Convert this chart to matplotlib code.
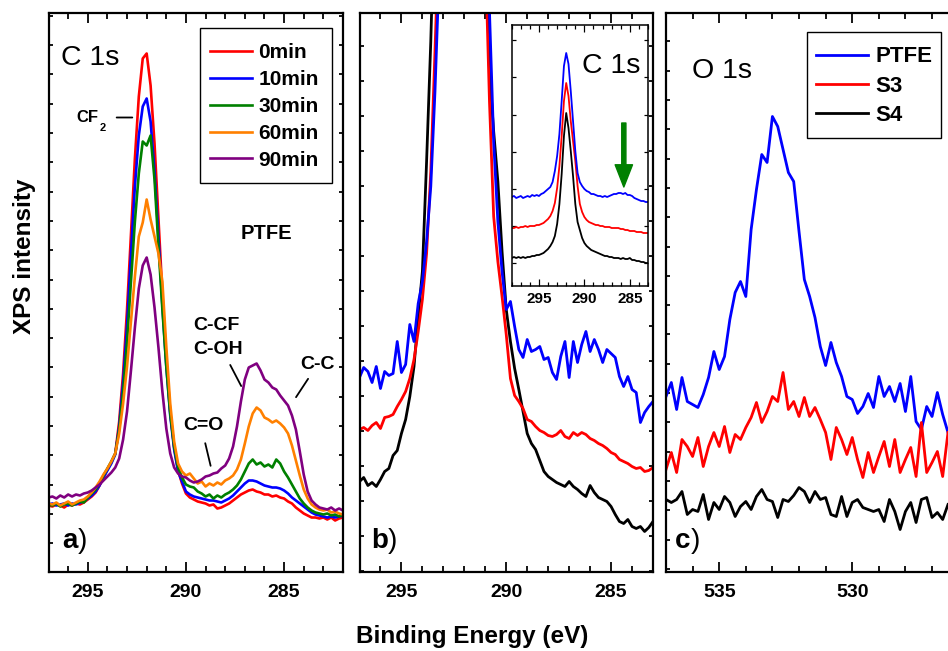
import numpy as np
import matplotlib.pyplot as plt
from matplotlib.ticker import MultipleLocator
from matplotlib.patches import Rectangle

plt.rcParams['font.family'] = ['Liberation Sans', 'DejaVu Sans']
plt.rcParams['font.weight'] = 'bold'

# ---------------- data (intensities in arbitrary units) ----------------
# panel a: C 1s of PTFE after 0..90 min treatment
energy_a = np.round(np.arange(297.0, 281.9, -0.2), 1)
labels_a = ['0min', '10min', '30min', '60min', '90min']
colors_a = ['#ff0000', '#0000ff', '#008000', '#ff8000', '#800080']
a_0min = [66, 65, 67, 66, 64, 67, 66, 68, 67, 69,
          72, 75, 79, 86, 94, 102, 109, 118, 150, 198,
          262, 337, 413, 475, 513, 518, 486, 428, 353, 278,
          212, 160, 124, 101, 88, 78, 74, 72, 70, 69,
          68, 66, 67, 63, 64, 66, 68, 71, 74, 77,
          79, 81, 82, 80, 79, 77, 77, 75, 76, 74,
          73, 70, 68, 64, 61, 58, 56, 54, 54, 53,
          54, 52, 54, 51, 53, 54]
a_10min = [67, 68, 66, 67, 68, 66, 68, 67, 69, 70,
           73, 76, 80, 86, 94, 101, 108, 117, 145, 189,
           246, 318, 385, 436, 465, 473, 450, 400, 335, 266,
           205, 156, 122, 100, 90, 80, 77, 75, 74, 73,
           72, 71, 71, 70, 69, 71, 73, 76, 80, 84,
           88, 91, 91, 90, 88, 86, 85, 84, 84, 83,
           81, 78, 74, 71, 68, 65, 62, 59, 57, 56,
           55, 54, 55, 54, 55, 56]
a_30min = [67, 66, 68, 65, 67, 68, 66, 68, 70, 69,
           74, 78, 82, 88, 96, 103, 110, 118, 142, 180,
           230, 290, 350, 398, 430, 426, 436, 392, 325, 262,
           205, 158, 125, 104, 94, 87, 85, 84, 80, 78,
           75, 77, 73, 76, 74, 77, 79, 82, 86, 92,
           100, 108, 112, 107, 109, 105, 107, 104, 112, 108,
           100, 94, 87, 80, 73, 68, 64, 61, 59, 58,
           57, 58, 56, 57, 55, 57]
a_60min = [68, 67, 69, 66, 68, 70, 67, 69, 71, 72,
           75, 79, 84, 90, 97, 103, 110, 118, 138, 168,
           205, 250, 295, 335, 349, 372, 352, 335, 318, 290,
           225, 168, 130, 108, 100, 96, 98, 93, 88, 90,
           85, 88, 86, 89, 87, 91, 93, 96, 102, 112,
           128, 145, 158, 164, 161, 154, 152, 149, 151, 148,
           144, 138, 126, 111, 96, 82, 73, 67, 64, 62,
           61, 62, 59, 60, 58, 57]
a_90min = [74, 75, 73, 76, 74, 77, 75, 77, 76, 78,
           79, 81, 84, 87, 91, 95, 99, 104, 113, 132,
           160, 201, 244, 283, 306, 314, 297, 264, 224, 180,
           143, 118, 104, 98, 95, 94, 91, 89, 90, 92,
           95, 96, 98, 99, 103, 106, 113, 125, 145, 170,
           192, 204, 206, 208, 201, 192, 189, 184, 182, 176,
           171, 166, 156, 142, 120, 97, 80, 71, 67, 64,
           63, 62, 64, 61, 63, 61]

# panel b: C 1s zoomed on the base of the CF2 peak
energy_b = np.round(np.arange(297.0, 282.9, -0.2), 1)
b_ptfe = [194, 204, 200, 189, 205, 183, 200, 196, 198, 230,
          199, 207, 247, 230, 268, 290, 330, 385, 480, 600,
          750, 950, 1150, 1350, 1500, 1550, 1450, 1250, 1050, 850,
          680, 560, 430, 350, 300, 262, 270, 245, 222, 214,
          232, 220, 222, 225, 212, 214, 199, 192, 215, 230,
          194, 230, 209, 227, 240, 220, 232, 222, 209, 222,
          218, 214, 195, 185, 195, 182, 179, 149, 159, 165,
          170]
b_s3 = [142, 144, 141, 146, 149, 143, 154, 155, 157, 165,
        172, 180, 193, 212, 240, 272, 318, 400, 520, 650,
        820, 1000, 1200, 1350, 1450, 1450, 1380, 1220, 1030, 840,
        620, 470, 355, 310, 275, 237, 193, 176, 170, 163,
        152, 150, 145, 141, 139, 136, 135, 137, 141, 135,
        133, 139, 136, 139, 137, 133, 131, 128, 126, 123,
        119, 117, 112, 110, 108, 105, 103, 104, 100, 101,
        104]
b_s4 = [90, 94, 86, 89, 85, 92, 100, 103, 116, 121,
        138, 152, 175, 205, 255, 300, 410, 530, 680, 850,
        1050, 1250, 1450, 1600, 1700, 1700, 1600, 1400, 1150, 900,
        680, 500, 440, 390, 320, 262, 230, 203, 182, 160,
        138, 128, 122, 111, 100, 95, 92, 89, 87, 85,
        90, 85, 82, 78, 75, 86, 79, 74, 72, 70,
        65, 57, 50, 48, 52, 45, 43, 45, 40, 44,
        50]

# inset: full C 1s
energy_in = np.round(np.arange(298.0, 282.9, -0.25), 2)
in_ptfe = [89, 90, 88, 89, 90, 88, 89, 90, 89, 91,
           90, 91, 90, 92, 93, 95, 97, 99, 104, 115,
           130, 152, 185, 220, 233, 222, 195, 165, 135, 113,
           104, 100, 97, 95, 94, 92, 92, 91, 90, 90,
           89, 90, 89, 90, 91, 92, 92, 93, 93, 92,
           93, 91, 91, 90, 88, 87, 86, 85, 85, 84,
           84]
in_s3 = [58, 58, 59, 58, 59, 59, 60, 59, 60, 60,
         60, 61, 61, 62, 63, 65, 67, 70, 75, 83,
         98, 120, 150, 185, 203, 190, 165, 145, 125, 100,
         82, 74, 69, 66, 64, 63, 62, 61, 61, 60,
         60, 59, 59, 59, 58, 58, 58, 58, 57, 57,
         56, 56, 55, 55, 55, 54, 54, 54, 53, 53,
         53]
in_s4 = [28, 29, 28, 29, 28, 29, 28, 29, 29, 30,
         30, 31, 31, 32, 33, 35, 37, 40, 44, 50,
         62, 82, 112, 150, 173, 158, 135, 110, 82, 64,
         56, 48, 43, 40, 38, 36, 35, 34, 33, 32,
         31, 30, 30, 29, 29, 28, 28, 28, 27, 28,
         27, 27, 28, 26, 26, 25, 25, 24, 24, 23,
         23]

# panel c: O 1s
energy_c = np.round(np.arange(537.0, 526.3, -0.2), 1)
c_ptfe = [175, 189, 162, 194, 170, 167, 164, 177, 194, 220,
          202, 215, 252, 279, 290, 275, 342, 382, 417, 409,
          455, 445, 422, 399, 390, 340, 292, 275, 254, 225,
          206, 229, 209, 195, 175, 172, 158, 165, 178, 164,
          195, 175, 185, 170, 188, 160, 195, 150, 142, 165,
          155, 179, 157, 139]
c_s3 = [102, 119, 99, 132, 125, 115, 134, 105, 125, 139,
        125, 145, 119, 137, 132, 144, 154, 169, 149, 160,
        175, 170, 199, 162, 170, 155, 174, 155, 164, 152,
        139, 112, 144, 132, 117, 134, 112, 94, 119, 99,
        115, 130, 105, 132, 99, 112, 124, 95, 149, 99,
        109, 120, 95, 139]
c_s4 = [72, 69, 72, 80, 57, 62, 60, 77, 52, 69,
        62, 75, 69, 55, 65, 70, 62, 75, 82, 72,
        70, 54, 72, 70, 76, 84, 80, 69, 80, 72,
        74, 57, 55, 75, 55, 69, 72, 64, 62, 60,
        62, 50, 72, 60, 42, 60, 69, 49, 72, 74,
        54, 59, 52, 67]

W, H = 948, 651


def style_axes(ax, ystep, yoff, lw=1.6, major_len=7, minor_len=4, labelsize=14, pad=9):
    ax.xaxis.set_major_locator(MultipleLocator(5))
    ax.xaxis.set_minor_locator(MultipleLocator(1))
    ax.yaxis.set_major_locator(MultipleLocator(ystep, offset=yoff))
    ax.tick_params(which='both', direction='in', top=True, right=True, width=lw * 0.8)
    ax.tick_params(axis='x', which='major', length=major_len, labelsize=labelsize, pad=pad)
    ax.tick_params(axis='x', which='minor', length=minor_len)
    ax.tick_params(axis='y', which='major', length=3, labelleft=False)
    for s in ax.spines.values():
        s.set_linewidth(lw)


def panel_label(ax, letter, x):
    t = ax.text(x, 0.042, letter, transform=ax.transAxes, fontsize=20, va='baseline')
    ax.annotate(')', xy=(1, 0), xycoords=t, va='bottom', fontsize=20, fontweight='normal')


def leader(ax, p0, p1):
    ax.annotate('', xy=p1, xytext=p0, arrowprops=dict(arrowstyle='-', lw=1.3, color='black'))


def boxed_legend(ax, fig, box, anchor_top, fontsize, **kw):
    # legend without its own frame, plus a frame sized like the original box
    x0, y0, x1, y1 = box
    ax.add_patch(Rectangle((x0 / W, 1 - y1 / H), (x1 - x0) / W, (y1 - y0) / H,
                           transform=fig.transFigure, facecolor='white', edgecolor='black',
                           lw=1.0, zorder=4.5, clip_on=False))
    leg = ax.legend(loc='upper left', bbox_to_anchor=(x0 / W, 1 - anchor_top / H),
                    bbox_transform=fig.transFigure, borderaxespad=0, frameon=False,
                    fontsize=fontsize, **kw)
    leg.set_zorder(5)
    return leg


fig = plt.figure(figsize=(W / 100, H / 100), dpi=100)
bottom = 1 - 571.5 / H
height = 559 / H

# ---- panel a
ax_a = fig.add_axes([48.5 / W, bottom, 294.5 / W, height])
for y, c, l in zip([a_0min, a_10min, a_30min, a_60min, a_90min], colors_a, labels_a):
    ax_a.plot(energy_a, y, color=c, lw=1.9, label=l)
ax_a.set_xlim(297, 282)
ax_a.set_ylim(0, 559)
style_axes(ax_a, 29.3, 28.3)
boxed_legend(ax_a, fig, (200, 28, 332, 183), 33, 15,
             handlelength=2.0, handletextpad=0.3, labelspacing=0.375, borderpad=0.5)
ax_a.text(0.042, 0.906, 'C 1s', transform=ax_a.transAxes, fontsize=20.5, fontweight='normal', va='baseline')
ax_a.text(287.21, 332.7, 'PTFE', fontsize=14.5, va='baseline')
ax_a.text(295.56, 449.3, 'CF', fontsize=12, va='baseline')
ax_a.text(294.38, 440.3, '2', fontsize=8, va='baseline')
leader(ax_a, (293.67, 454), (292.59, 454))
ax_a.text(289.63, 241.7, 'C-CF', fontsize=14, va='baseline')
ax_a.text(289.63, 217.7, 'C-OH', fontsize=14, va='baseline')
leader(ax_a, (287.81, 209), (287.12, 183))
ax_a.text(290.14, 141, 'C=O', fontsize=14, va='baseline')
leader(ax_a, (289.05, 131), (288.71, 103))
ax_a.text(284.18, 202.7, 'C-C', fontsize=14, va='baseline')
leader(ax_a, (283.70, 195), (284.47, 172))
panel_label(ax_a, 'a', 0.046)

# ---- panel b
ax_b = fig.add_axes([359.5 / W, bottom, 293.5 / W, height])
ax_b.plot(energy_b, b_s4, color='black', lw=2)
ax_b.plot(energy_b, b_s3, color='#ff0000', lw=2)
ax_b.plot(energy_b, b_ptfe, color='#0000ff', lw=2)
ax_b.set_xlim(297, 283)
ax_b.set_ylim(0, 559)
style_axes(ax_b, 35, 0.3)
panel_label(ax_b, 'b', 0.04)

# ---- inset in b
ax_in = fig.add_axes([511.7 / W, 1 - 286 / H, 136.3 / W, 261 / H])
ax_in.set_facecolor('white')
ax_in.plot(energy_in, in_s4, color='black', lw=1.3)
ax_in.plot(energy_in, in_s3, color='#ff0000', lw=1.3)
ax_in.plot(energy_in, in_ptfe, color='#0000ff', lw=1.3)
ax_in.set_xlim(298, 283)
ax_in.set_ylim(0, 261)
style_axes(ax_in, 37.2, 22.7, lw=1.1, major_len=5, minor_len=3, labelsize=11, pad=4)
ax_in.text(0.514, 0.817, 'C 1s', transform=ax_in.transAxes, fontsize=20.5, fontweight='normal', va='baseline')
ax_in.annotate('', xy=(285.66, 99), xytext=(285.66, 163),
               arrowprops=dict(width=3, headwidth=12.5, headlength=16, color='#008000', shrink=0))

# ---- panel c (cut at the right edge of the figure)
ax_c = fig.add_axes([666 / W, bottom, 282 / W, height])
ax_c.plot(energy_c, c_ptfe, color='#0000ff', lw=2, label='PTFE')
ax_c.plot(energy_c, c_s3, color='#ff0000', lw=2, label='S3')
ax_c.plot(energy_c, c_s4, color='black', lw=2, label='S4')
ax_c.set_xlim(537, 526.4)
ax_c.set_ylim(0, 559)
style_axes(ax_c, 29.3, 2.7)
ax_c.spines['right'].set_visible(False)
ax_c.tick_params(which='both', right=False)
boxed_legend(ax_c, fig, (807, 32, 941, 138), 37.4, 16,
             handlelength=2.35, handletextpad=0.32, labelspacing=0.38, borderpad=0.4)
ax_c.text(0.092, 0.882, 'O 1s', transform=ax_c.transAxes, fontsize=20.5, fontweight='normal', va='baseline')
panel_label(ax_c, 'c', 0.032)

fig.text(25 / W, 1 - 256 / H, 'XPS intensity', rotation=90, ha='center', va='center', fontsize=17.5)
fig.text(472 / W, 1 - 637 / H, 'Binding Energy (eV)', ha='center', va='center', fontsize=17.5)

fig.savefig('out.png', dpi=100)
